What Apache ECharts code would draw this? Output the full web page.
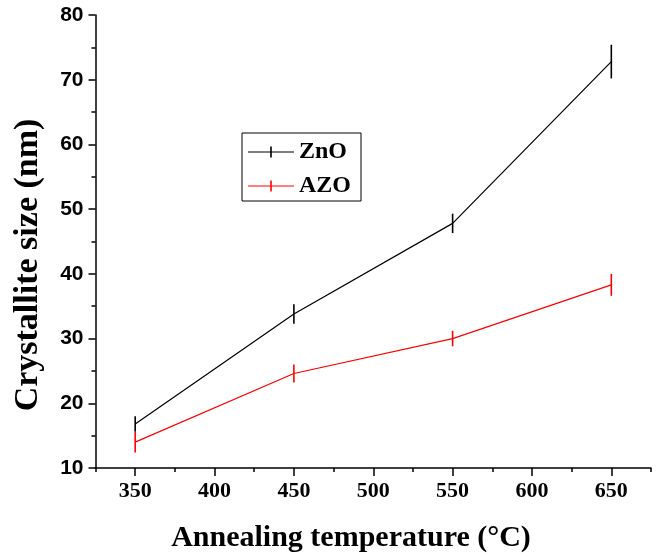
<!DOCTYPE html>
<html>
<head>
<meta charset="utf-8">
<script src="https://cdn.jsdelivr.net/npm/echarts@6/dist/echarts.min.js"></script>
<style>html,body{margin:0;padding:0;background:#fff;}#c{width:659px;height:560px;}</style>
</head>
<body>
<div id="c"></div>
<script>
const temps = [350, 450, 550, 650];
const zno = [16.8, 33.8, 47.8, 72.8];
const znoErr = [1.2, 1.5, 1.5, 2.6];
const azo = [14.0, 24.6, 30.0, 38.3];
const azoErr = [1.6, 1.4, 1.2, 1.7];
const xMajorTicks = [350, 400, 450, 500, 550, 600, 650];
const xMinorTicks = [325, 375, 425, 475, 525, 575, 625, 675];
const xTitle = 'Annealing temperature (°C)';
const yTitle = 'Crystallite size (nm)';
const seriesNames = ['ZnO', 'AZO'];

const chart = echarts.init(document.getElementById('c'));

function errSeries(name, vals, errs, color) {
  return {
    type: 'custom',
    name: name + ' err',
    data: temps.map((t, i) => [t, vals[i] - errs[i], vals[i] + errs[i]]),
    renderItem: function (params, api) {
      const p1 = api.coord([api.value(0), api.value(1)]);
      const p2 = api.coord([api.value(0), api.value(2)]);
      return {
        type: 'line',
        shape: { x1: p1[0], y1: p1[1], x2: p2[0], y2: p2[1] },
        style: { stroke: color, lineWidth: 1.6 }
      };
    },
    z: 3,
    silent: true
  };
}

const legendIcon = 'path://M0,5 L46,5 L46,6 L0,6 Z M22.2,0 L23.8,0 L23.8,11 L22.2,11 Z';

chart.setOption({
  animation: false,
  grid: { left: 95.5, right: 8, top: 15, bottom: 92 },
  legend: {
    left: 242, top: 133,
    orient: 'vertical',
    borderColor: '#000', borderWidth: 1,
    padding: [7, 10, 3, 6],
    itemWidth: 46, itemHeight: 11, itemGap: 10,
    textStyle: { fontFamily: 'Liberation Serif', fontWeight: 'bold', fontSize: 24, color: '#000', lineHeight: 23 },
    data: [
      { name: seriesNames[0], icon: legendIcon },
      { name: seriesNames[1], icon: legendIcon }
    ]
  },
  xAxis: [{
    type: 'value', min: 325, max: 675, interval: 25,
    splitLine: { show: false },
    axisLine: { lineStyle: { color: '#000', width: 1.5 } },
    axisTick: { customValues: xMajorTicks, length: 8, lineStyle: { color: '#000', width: 1.5 } },
    axisLabel: { customValues: xMajorTicks, margin: 12, fontFamily: 'Liberation Serif', fontWeight: 'bold', fontSize: 22, color: '#000' }
  }, {
    type: 'value', min: 325, max: 675, interval: 25, position: 'bottom',
    splitLine: { show: false },
    axisLine: { show: false },
    axisTick: { customValues: xMinorTicks, length: 4, lineStyle: { color: '#000', width: 1.5 } },
    axisLabel: { show: false }
  }],
  yAxis: {
    type: 'value', min: 10, max: 80, interval: 10,
    splitLine: { show: false },
    axisLine: { show: true, lineStyle: { color: '#000', width: 1.5 } },
    axisTick: { show: true, length: 7, lineStyle: { color: '#000', width: 1.5 } },
    minorTick: { show: true, splitNumber: 2, length: 4, lineStyle: { color: '#000', width: 1.5 } },
    axisLabel: { margin: 12, fontFamily: 'Liberation Sans', fontWeight: 'bold', fontSize: 21, color: '#000' }
  },
  graphic: [
    { type: 'text', x: 351, y: 538, style: { text: xTitle, font: 'bold 30px "Liberation Serif"', fill: '#000', align: 'center', verticalAlign: 'middle' } },
    { type: 'text', x: 28, y: 265, rotation: Math.PI / 2, style: { text: yTitle, font: 'bold 34px "Liberation Serif"', fill: '#000', align: 'center', verticalAlign: 'middle' } }
  ],
  series: [
    { type: 'line', name: seriesNames[0], data: temps.map((t, i) => [t, zno[i]]), symbol: 'none', lineStyle: { color: '#000', width: 1.2 }, itemStyle: { color: '#000' } },
    { type: 'line', name: seriesNames[1], data: temps.map((t, i) => [t, azo[i]]), symbol: 'none', lineStyle: { color: '#ff0000', width: 1.2 }, itemStyle: { color: '#ff0000' } },
    errSeries(seriesNames[0], zno, znoErr, '#000'),
    errSeries(seriesNames[1], azo, azoErr, '#ff0000')
  ]
});
</script>
</body>
</html>
